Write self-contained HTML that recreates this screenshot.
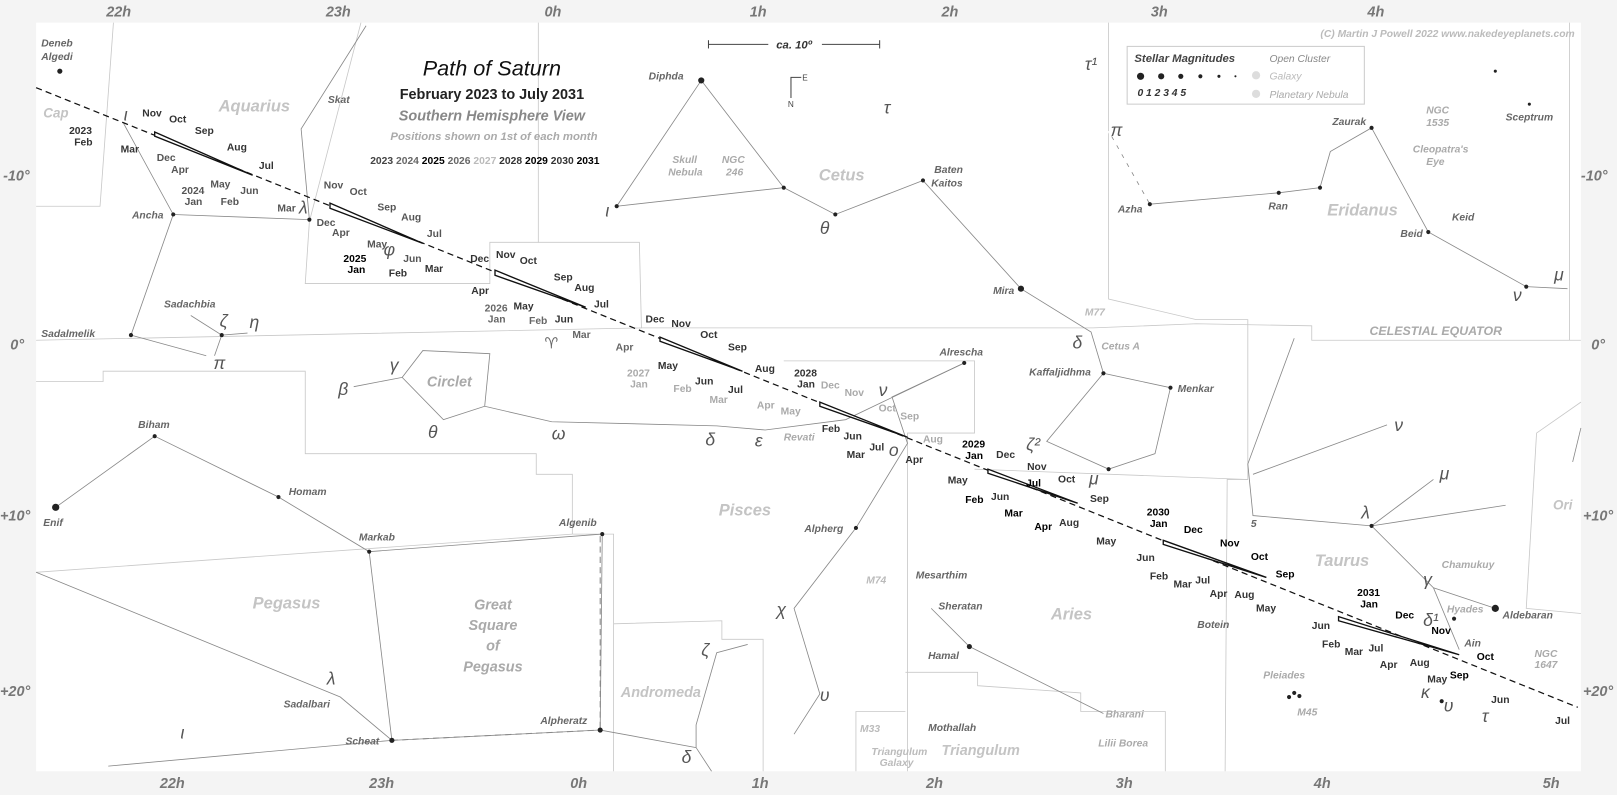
<!DOCTYPE html>
<html><head><meta charset="utf-8"><style>
html,body{margin:0;padding:0;background:#f4f4f4;}
svg{display:block;}
text{font-family:"Liberation Sans",sans-serif;}
.ax{font-size:14px;font-weight:bold;font-style:italic;fill:#777;}
.con{font-size:16px;font-weight:bold;font-style:italic;fill:#c4c4c4;}
.st{font-size:10px;font-weight:bold;font-style:italic;fill:#666;}
.gr{font-size:17px;font-style:italic;fill:#555;font-family:"Liberation Serif",serif;}
.m{font-size:10px;font-weight:bold;fill:#333;}
.ml{font-size:10px;font-weight:bold;fill:#aaa;}
.cl{stroke:#888;stroke-width:0.8;fill:none;}
.bd{stroke:#c8c8c8;stroke-width:0.8;fill:none;}
.tk{stroke:#444;stroke-width:0.8;}
</style></head><body>
<svg width="1617" height="795" viewBox="0 0 1568 771" preserveAspectRatio="none" xmlns="http://www.w3.org/2000/svg">
<rect x="0" y="0" width="1568" height="771" fill="#f4f4f4"/>
<rect x="35" y="22" width="1498" height="726" fill="#fff"/>
<g class="ax">
<text x="103" y="16">22h</text><text x="316" y="16">23h</text><text x="528" y="16">0h</text><text x="727" y="16">1h</text><text x="913" y="16">2h</text><text x="1116" y="16">3h</text><text x="1326" y="16">4h</text>
<text x="155" y="764">22h</text><text x="358" y="764">23h</text><text x="553" y="764">0h</text><text x="729" y="764">1h</text><text x="898" y="764">2h</text><text x="1082" y="764">3h</text><text x="1274" y="764">4h</text><text x="1496" y="764">5h</text>
<text x="3" y="175">-10°</text><text x="10" y="339">0°</text><text x="0" y="505">+10°</text><text x="0" y="675">+20°</text>
<text x="1533" y="175">-10°</text><text x="1543" y="339">0°</text><text x="1535" y="505">+10°</text><text x="1535" y="675">+20°</text>
</g>
<text x="1527" y="36" text-anchor="end" style="font-size:10px;font-style:italic;font-weight:bold;fill:#bbb">(C) Martin J Powell  2022  www.nakedeyeplanets.com</text>
<g class="bd">
<polyline points="110,22 97,200 35,200"/>
<polyline points="350,22 300,215 296,275 475,275 475,235 522,235 522,22"/>
<polyline points="522,235 620,235 622,318 35,330"/>
<polyline points="620,318 1060,318 1160,314 1272,316 1272,330 1533,330"/>
<polyline points="35,370 100,370 100,360 296,360 296,440 520,440 520,460 555,460 555,518"/>
<polyline points="555,518 35,555"/>
<polyline points="555,518 595,518 595,748"/>
<polyline points="595,605 700,602 700,620 740,620 740,748"/>
<polyline points="760,350 945,350 945,420 880,420 880,748"/>
<polyline points="878,652 948,652 948,665 1048,672 1048,690 1130,690 1130,748"/>
<polyline points="830,748 830,690 878,690"/>
<polyline points="1075,22 1075,290 1160,310 1210,310 1210,465 1190,465 1188,748"/>
<polyline points="945,455 1210,465"/>
<polyline points="1533,390 1490,420 1480,590 1533,595"/>
<polyline points="1522,22 1522,330"/>
</g>
<g class="cl">
<polyline points="120,120 168,208 127,325 200,345"/>
<polyline points="168,208 300,213 292,125 355,25"/>
<polyline points="185,306 215,325 240,323"/>
<polyline points="215,325 208,345"/>
<polyline points="343,375 390,366 430,407 470,394 535,409 695,413 742,417 820,407 935,352"/>
<polyline points="390,366 410,340 475,343 470,394"/>
<polyline points="54,492 150,423 270,482 358,535 584,518 582,708 380,718 358,535"/>
<polyline points="380,718 330,676 35,555"/>
<polyline points="380,718 105,743"/>
<polyline points="582,708 675,725 690,748"/>
<polyline points="675,725 675,703 695,633 725,625"/>
<polyline points="680,78 760,182 598,200 680,78"/>
<polyline points="760,182 810,208 895,175 990,280 1058,322 1070,362 1135,376 1120,440 1075,455 1015,428 1070,362"/>
<polyline points="935,352 865,385 880,430 830,512 770,590 795,673 770,712"/>
<polyline points="903,590 940,627 1070,692"/>
<polyline points="1115,198 1240,187 1280,182 1290,147 1330,124 1385,225 1480,278 1520,280"/>
<polyline points="1075,127 1115,198"/>
<polyline points="1255,328 1210,450 1215,500 1330,510 1460,490"/>
<polyline points="1215,460 1345,412"/>
<polyline points="1330,510 1390,465"/>
<polyline points="1330,510 1390,570 1450,590"/>
<polyline points="1390,570 1415,630"/>
<polyline points="1525,448 1533,415"/>
</g>
<line x1="582" y1="520" x2="582" y2="708" stroke="#888" stroke-dasharray="6,4"/>
<line x1="380" y1="718" x2="582" y2="708" stroke="#888" stroke-dasharray="6,4"/>
<line x1="1075" y1="127" x2="1115" y2="198" stroke="#fff" stroke-width="2" stroke-dasharray="6,4"/>
<line x1="35" y1="85" x2="1530" y2="686" stroke="#111" stroke-width="1.2" stroke-dasharray="6,4"/>
<g fill="#fff" stroke="#111" stroke-width="1.3">
<polygon points="150,128 245,170 150,132"/>
<polygon points="320,197 410,236 320,202"/>
<polygon points="480,262 568,298 480,267"/>
<polygon points="640,327 720,360 640,331"/>
<polygon points="795,390 880,424 795,394"/>
<polygon points="958,455 1045,488 958,459"/>
<polygon points="1128,524 1228,560 1128,528"/>
<polygon points="1298,598 1415,635 1298,602"/>
</g>
<g fill="#222">
<circle cx="58" cy="69" r="2.5"/><circle cx="54" cy="492" r="3.5"/><circle cx="680" cy="78" r="3"/><circle cx="990" cy="280" r="3"/>
<circle cx="1450" cy="590" r="3.5"/><circle cx="940" cy="627" r="2.5"/><circle cx="380" cy="718" r="2.5"/><circle cx="582" cy="708" r="2.5"/>
<circle cx="358" cy="535" r="2"/><circle cx="168" cy="208" r="2"/><circle cx="127" cy="325" r="2"/><circle cx="300" cy="213" r="2"/>
<circle cx="760" cy="182" r="2"/><circle cx="598" cy="200" r="2"/><circle cx="810" cy="208" r="2"/><circle cx="895" cy="175" r="2"/>
<circle cx="1115" cy="198" r="2"/><circle cx="1240" cy="187" r="2"/><circle cx="1280" cy="182" r="2"/><circle cx="1330" cy="124" r="2"/>
<circle cx="1385" cy="225" r="2"/><circle cx="1480" cy="278" r="2"/><circle cx="1330" cy="510" r="2"/><circle cx="1070" cy="362" r="2"/>
<circle cx="1135" cy="376" r="2"/><circle cx="1075" cy="455" r="2"/><circle cx="935" cy="352" r="2"/><circle cx="830" cy="512" r="2"/>
<circle cx="270" cy="482" r="2"/><circle cx="584" cy="518" r="2"/><circle cx="150" cy="423" r="2"/><circle cx="215" cy="325" r="2"/>
<circle cx="1255" cy="672" r="2"/><circle cx="1260" cy="675" r="2"/><circle cx="1250" cy="676" r="2"/><circle cx="1398" cy="680" r="2"/>
<circle cx="1483" cy="101" r="1.5"/><circle cx="1450" cy="69" r="1.5"/><circle cx="1410" cy="600" r="2"/>
</g>
<text x="477" y="73" text-anchor="middle" style="font-size:21px;font-style:italic;fill:#111">Path of Saturn</text>
<text x="477" y="96" text-anchor="middle" style="font-size:14px;font-weight:bold;fill:#222">February 2023 to July 2031</text>
<text x="477" y="117" text-anchor="middle" style="font-size:14px;font-weight:bold;font-style:italic;fill:#888">Southern Hemisphere View</text>
<text x="479" y="136" text-anchor="middle" style="font-size:11px;font-weight:bold;font-style:italic;fill:#aaa">Positions shown on 1st of each month</text>
<text x="359" y="159" style="font-size:10px;font-weight:bold;fill:#444">2023 <tspan fill="#666">2024</tspan> <tspan fill="#000">2025</tspan> <tspan fill="#666">2026</tspan> <tspan fill="#bbb">2027</tspan> <tspan fill="#333">2028</tspan> <tspan fill="#000">2029</tspan> <tspan fill="#333">2030</tspan> <tspan fill="#000">2031</tspan></text>
<line x1="687" y1="43" x2="853" y2="43" stroke="#444"/><line x1="687" y1="39" x2="687" y2="47" stroke="#444"/><line x1="853" y1="39" x2="853" y2="47" stroke="#444"/>
<rect x="745" y="36" width="52" height="14" fill="#fff"/>
<text x="770" y="47" text-anchor="middle" style="font-size:11px;font-style:italic;font-weight:bold;fill:#333">ca. 10º</text>
<polyline points="777,75 767,75 767,95" stroke="#444" fill="none"/><text x="778" y="78" style="font-size:8px;fill:#444">E</text><text x="764" y="104" style="font-size:8px;fill:#444">N</text>
<rect x="1093" y="45" width="230" height="56" fill="#fff" stroke="#ccc"/>
<text x="1100" y="60" style="font-size:11px;font-weight:bold;font-style:italic;fill:#444">Stellar Magnitudes</text>
<g fill="#222"><circle cx="1106" cy="74" r="3.5"/><circle cx="1126" cy="74" r="3"/><circle cx="1145" cy="74" r="2.5"/><circle cx="1164" cy="74" r="2"/><circle cx="1182" cy="74" r="1.5"/><circle cx="1198" cy="74" r="1"/></g>
<text x="1103" y="93" style="font-size:10px;font-weight:bold;font-style:italic;fill:#333">0    1    2    3    4    5</text>
<text x="1231" y="60" style="font-size:10px;font-style:italic;fill:#888">Open Cluster</text>
<text x="1231" y="77" style="font-size:10px;font-style:italic;fill:#bbb">Galaxy</text>
<text x="1231" y="95" style="font-size:10px;font-style:italic;fill:#aaa">Planetary Nebula</text>
<circle cx="1218" cy="73" r="4" fill="#ddd"/><circle cx="1218" cy="91" r="4" fill="#ddd"/>
<g class="con">
<text x="212" y="108">Aquarius</text><text x="42" y="114" style="font-size:13px">Cap</text><text x="794" y="175">Cetus</text><text x="1287" y="209">Eridanus</text>
<text x="697" y="500">Pisces</text><text x="245" y="590">Pegasus</text><text x="1019" y="601">Aries</text><text x="1275" y="549">Taurus</text>
<text x="602" y="676" style="font-size:14px">Andromeda</text><text x="913" y="732" style="font-size:14px">Triangulum</text><text x="1506" y="494" style="font-size:13px">Ori</text>
<text x="414" y="375" style="font-size:14px;fill:#aaa">Circlet</text>
<text x="478" y="591" text-anchor="middle" style="font-size:14px;fill:#aaa">Great</text><text x="478" y="611" text-anchor="middle" style="font-size:14px;fill:#aaa">Square</text><text x="478" y="631" text-anchor="middle" style="font-size:14px;fill:#aaa">of</text><text x="478" y="651" text-anchor="middle" style="font-size:14px;fill:#aaa">Pegasus</text>
</g>
<text x="1328" y="325" style="font-size:12px;font-weight:bold;font-style:italic;fill:#aaa">CELESTIAL  EQUATOR</text>
<g class="st">
<text x="40" y="45">Deneb</text><text x="40" y="58">Algedi</text><text x="318" y="100">Skat</text><text x="128" y="212">Ancha</text><text x="159" y="298">Sadachbia</text><text x="40" y="327">Sadalmelik</text>
<text x="134" y="415">Biham</text><text x="280" y="480">Homam</text><text x="42" y="510">Enif</text><text x="348" y="524">Markab</text><text x="542" y="510">Algenib</text>
<text x="275" y="686">Sadalbari</text><text x="335" y="722">Scheat</text><text x="524" y="702">Alpheratz</text><text x="629" y="77">Diphda</text>
<text x="906" y="168">Baten</text><text x="903" y="181">Kaitos</text><text x="963" y="285">Mira</text><text x="1084" y="206">Azha</text><text x="1230" y="203">Ran</text><text x="1292" y="121">Zaurak</text>
<text x="1358" y="230">Beid</text><text x="1408" y="214">Keid</text><text x="1460" y="117">Sceptrum</text><text x="911" y="345">Alrescha</text><text x="998" y="364">Kaffaljidhma</text><text x="1142" y="380">Menkar</text>
<text x="780" y="516">Alpherg</text><text x="888" y="561">Mesarthim</text><text x="910" y="591">Sheratan</text><text x="900" y="639">Hamal</text><text x="900" y="709">Mothallah</text>
<text x="1072" y="696" fill="#aaa">Bharani</text><text x="1065" y="724" fill="#aaa">Lilii Borea</text><text x="1161" y="609">Botein</text><text x="1457" y="600">Aldebaran</text><text x="1420" y="627">Ain</text>
<text x="1398" y="551" fill="#aaa">Chamukuy</text><text x="1403" y="594" fill="#aaa">Hyades</text><text x="1225" y="658" fill="#aaa">Pleiades</text><text x="1258" y="694" fill="#aaa">M45</text>
<text x="1052" y="306" fill="#bbb">M77</text><text x="1068" y="339" fill="#aaa">Cetus A</text><text x="840" y="566" fill="#bbb">M74</text>
<text x="652" y="158" fill="#aaa">Skull</text><text x="648" y="170" fill="#aaa">Nebula</text><text x="700" y="158" fill="#aaa">NGC</text><text x="704" y="170" fill="#aaa">246</text>
<text x="1383" y="110" fill="#aaa">NGC</text><text x="1383" y="122" fill="#aaa">1535</text><text x="1370" y="148" fill="#aaa">Cleopatra's</text><text x="1383" y="160" fill="#aaa">Eye</text>
<text x="1488" y="637" fill="#aaa">NGC</text><text x="1488" y="648" fill="#aaa">1647</text>
<text x="834" y="710" fill="#bbb">M33</text><text x="845" y="732" fill="#bbb">Triangulum</text><text x="853" y="743" fill="#bbb">Galaxy</text>
<text x="760" y="427" fill="#aaa">Revati</text>
</g>
<g class="gr">
<text x="120" y="117">ι</text><text x="290" y="207">λ</text><text x="372" y="248">φ</text><text x="213" y="317">ζ</text><text x="242" y="318">η</text><text x="207" y="358">π</text>
<text x="328" y="383">β</text><text x="378" y="360">γ</text><text x="415" y="425">θ</text><text x="535" y="426">ω</text><text x="684" y="432">δ</text><text x="732" y="433">ε</text>
<text x="587" y="210">ι</text><text x="857" y="110">τ</text><text x="795" y="227">θ</text><text x="1052" y="68">τ¹</text><text x="1077" y="132">π</text><text x="1040" y="338">δ</text>
<text x="852" y="384">ν</text><text x="862" y="442">ο</text><text x="995" y="437">ζ²</text><text x="1056" y="470">μ</text><text x="1352" y="418">ν</text><text x="1396" y="465">μ</text>
<text x="1320" y="503">λ</text><text x="1380" y="568">γ</text><text x="1380" y="607">δ¹</text><text x="1378" y="677">κ</text><text x="1400" y="690">υ</text><text x="1437" y="700">τ</text><text x="1507" y="272">μ</text><text x="1467" y="292">ν</text>
<text x="753" y="597">χ</text><text x="795" y="680">υ</text><text x="680" y="636">ζ</text><text x="661" y="740">δ</text><text x="317" y="664">λ</text><text x="175" y="716">ι</text>
</g>
<text x="528" y="338" style="font-family:'DejaVu Sans',sans-serif;font-size:15px;fill:#666">&#x2648;&#xFE0E;</text>
<text x="1213" y="511" class="st" fill="#444">5</text>
<g class="m">
<text x="67" y="130">2023</text><text x="72" y="141">Feb</text><text x="117" y="148">Mar</text><text x="138" y="113">Nov</text><text x="164" y="119">Oct</text><text x="189" y="130">Sep</text><text x="220" y="146">Aug</text><text x="251" y="164">Jul</text>
<text x="152" y="156" fill="#555">Dec</text><text x="166" y="168" fill="#555">Apr</text><text x="204" y="182" fill="#555">May</text><text x="233" y="188" fill="#555">Jun</text><text x="176" y="188" fill="#555">2024</text><text x="179" y="199" fill="#555">Jan</text><text x="214" y="199" fill="#555">Feb</text><text x="269" y="205" fill="#555">Mar</text>
<text x="314" y="183" fill="#555">Nov</text><text x="339" y="189" fill="#555">Oct</text><text x="366" y="204" fill="#555">Sep</text><text x="389" y="214" fill="#555">Aug</text><text x="414" y="230" fill="#555">Jul</text>
<text x="307" y="219" fill="#555">Dec</text><text x="322" y="229" fill="#555">Apr</text><text x="356" y="240" fill="#555">May</text><text x="391" y="254" fill="#555">Jun</text><text x="412" y="264">Mar</text>
<text x="333" y="254" fill="#000">2025</text><text x="337" y="265" fill="#000">Jan</text><text x="377" y="268">Feb</text>
<text x="456" y="254">Dec</text><text x="481" y="250">Nov</text><text x="504" y="256">Oct</text><text x="537" y="272">Sep</text><text x="557" y="282">Aug</text><text x="576" y="298">Jul</text>
<text x="457" y="285">Apr</text><text x="498" y="300">May</text><text x="538" y="313">Jun</text><text x="470" y="302" fill="#666">2026</text><text x="473" y="313" fill="#666">Jan</text><text x="513" y="314" fill="#666">Feb</text><text x="555" y="328" fill="#666">Mar</text>
<text x="626" y="313">Dec</text><text x="651" y="317">Nov</text><text x="679" y="328">Oct</text><text x="706" y="340">Sep</text><text x="732" y="361">Aug</text>
<text x="597" y="340" fill="#666">Apr</text><text x="638" y="358">May</text><text x="674" y="373">Jun</text><text x="706" y="381">Jul</text>
<text x="608" y="365" class="ml">2027</text><text x="611" y="376" class="ml">Jan</text><text x="653" y="380" class="ml">Feb</text><text x="688" y="391" class="ml">Mar</text>
<text x="770" y="365">2028</text><text x="773" y="376">Jan</text><text x="796" y="377" class="ml">Dec</text><text x="819" y="384" class="ml">Nov</text><text x="852" y="399" class="ml">Oct</text><text x="873" y="407" class="ml">Sep</text><text x="895" y="429" class="ml">Aug</text>
<text x="734" y="396" class="ml">Apr</text><text x="757" y="402" class="ml">May</text><text x="797" y="419">Feb</text><text x="818" y="426">Jun</text><text x="843" y="437">Jul</text><text x="821" y="444">Mar</text><text x="878" y="449">Apr</text>
<text x="933" y="434" fill="#000">2029</text><text x="936" y="445" fill="#000">Jan</text><text x="966" y="444">Dec</text><text x="996" y="456">Nov</text><text x="1026" y="468">Oct</text><text x="1057" y="487">Sep</text>
<text x="919" y="469">May</text><text x="961" y="485">Jun</text><text x="995" y="472" fill="#000">Jul</text><text x="936" y="488" fill="#000">Feb</text><text x="974" y="501" fill="#000">Mar</text><text x="1003" y="514" fill="#000">Apr</text><text x="1027" y="510">Aug</text><text x="1063" y="528">May</text>
<text x="1112" y="500" fill="#000">2030</text><text x="1115" y="511" fill="#000">Jan</text><text x="1148" y="517" fill="#000">Dec</text><text x="1183" y="530" fill="#000">Nov</text><text x="1213" y="543" fill="#000">Oct</text><text x="1237" y="560" fill="#000">Sep</text>
<text x="1102" y="544">Jun</text><text x="1115" y="562">Feb</text><text x="1138" y="570">Mar</text><text x="1159" y="566">Jul</text><text x="1173" y="579">Apr</text><text x="1197" y="580">Aug</text><text x="1218" y="593">May</text>
<text x="1316" y="578" fill="#000">2031</text><text x="1319" y="589" fill="#000">Jan</text><text x="1353" y="600" fill="#000">Dec</text><text x="1388" y="615" fill="#000">Nov</text><text x="1432" y="640" fill="#000">Oct</text><text x="1406" y="658" fill="#000">Sep</text>
<text x="1272" y="610">Jun</text><text x="1282" y="628">Feb</text><text x="1304" y="635">Mar</text><text x="1327" y="632">Jul</text><text x="1338" y="648">Apr</text><text x="1367" y="646">Aug</text><text x="1384" y="662">May</text><text x="1446" y="682">Jun</text><text x="1508" y="702">Jul</text>
</g>
</svg>
</body></html>
